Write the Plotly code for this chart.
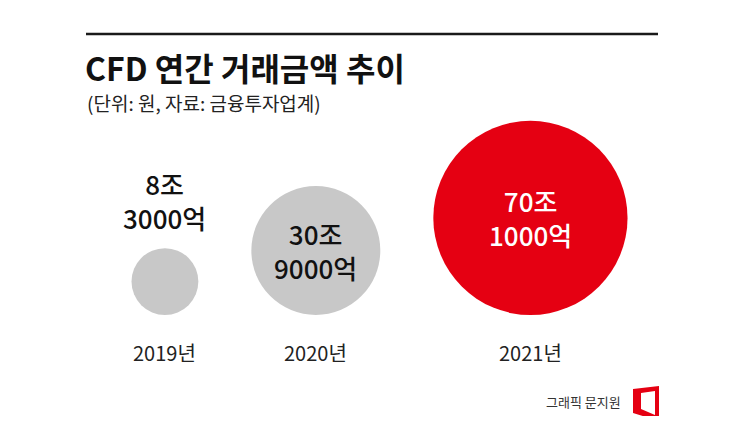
import math
import plotly.graph_objects as go

# ---- data ----
years = ["2019년", "2020년", "2021년"]
values_jo = [8.3, 30.9, 70.1]          # 거래금액 (조 원)
value_labels = ["8조<br>3000억", "30조<br>9000억", "70조<br>1000억"]

title = "CFD 연간 거래금액 추이"
subtitle = "(단위: 원, 자료: 금융투자업계)"
credit = "그래픽 문지원"

# ---- style / layout constants ----
W, H = 745, 424
PAD = 8             # page body margin
K = 11.6            # px radius per sqrt(조)
BASE_Y = 315        # common bottom line of bubbles
LEFT = 131.5        # left edge of first bubble
GAP = 53            # gap between bubbles
LABEL_Y = 352
GRAY = "#c8c8c8"
RED = "#e50012"
FONT = "Noto Sans CJK KR"

radii = [K * math.sqrt(v) for v in values_jo]
xs, cur = [], LEFT
for r in radii:
    xs.append(cur + r)
    cur += 2 * r + GAP
ys = [BASE_Y - r for r in radii]
colors = [GRAY, GRAY, RED]

fig = go.Figure()
fig.add_trace(go.Scatter(
    x=xs, y=ys, mode="markers",
    marker=dict(size=values_jo, sizemode="area", sizeref=1 / (2 * K * K),
                color=colors, line=dict(width=0), opacity=1),
    hoverinfo="skip", showlegend=False,
))

ann = []
for i, (x, y, r) in enumerate(zip(xs, ys, radii)):
    inside = r > 50
    if inside:
        ann.append(dict(x=x, y=y, text=value_labels[i], showarrow=False,
                        xanchor="center", yanchor="middle",
                        font=dict(family=FONT, size=26, weight=500,
                                  color="#ffffff" if colors[i] == RED else "#111111")))
    else:
        ann.append(dict(x=x, y=y - r - 10, text=value_labels[i], showarrow=False,
                        xanchor="center", yanchor="bottom",
                        font=dict(family=FONT, size=26, weight=500, color="#111111")))
    ann.append(dict(x=x, y=LABEL_Y, text=years[i], showarrow=False,
                    xanchor="center", yanchor="middle",
                    font=dict(family=FONT, size=20, color="#222222")))

ann.append(dict(x=83, y=67, text="<b>" + title + "</b>", showarrow=False,
                xanchor="left", yanchor="middle",
                font=dict(family=FONT, size=32, color="#111111")))
ann.append(dict(x=85, y=102, text=subtitle, showarrow=False,
                xanchor="left", yanchor="middle",
                font=dict(family=FONT, size=19, color="#222222")))
ann.append(dict(x=623, y=401, text=credit, showarrow=False,
                xanchor="right", yanchor="middle",
                font=dict(family=FONT, size=13, color="#333333")))

shapes = [
    dict(type="line", x0=86, x1=658, y0=34, y1=34, xref="x", yref="y",
         line=dict(color="#1a1a1a", width=2.5)),
    dict(type="path", xref="x", yref="y",
         path="M 633 389 L 659 386 L 659 421 L 633 413 Z",
         fillcolor=RED, line=dict(width=0)),
    dict(type="path", xref="x", yref="y",
         path="M 641 393 L 655 391 L 655 415 L 641 409 Z",
         fillcolor="#ffffff", line=dict(width=0)),
]

fig.update_layout(
    width=W - 2 * PAD, height=H - 2 * PAD, margin=dict(l=0, r=0, t=0, b=0),
    paper_bgcolor="#ffffff", plot_bgcolor="#ffffff",
    xaxis=dict(range=[PAD, W - PAD], visible=False, fixedrange=True),
    yaxis=dict(range=[H - PAD, PAD], visible=False, fixedrange=True),
    annotations=ann, shapes=shapes,
)

fig.write_html("out.html", config={"displayModeBar": False})
